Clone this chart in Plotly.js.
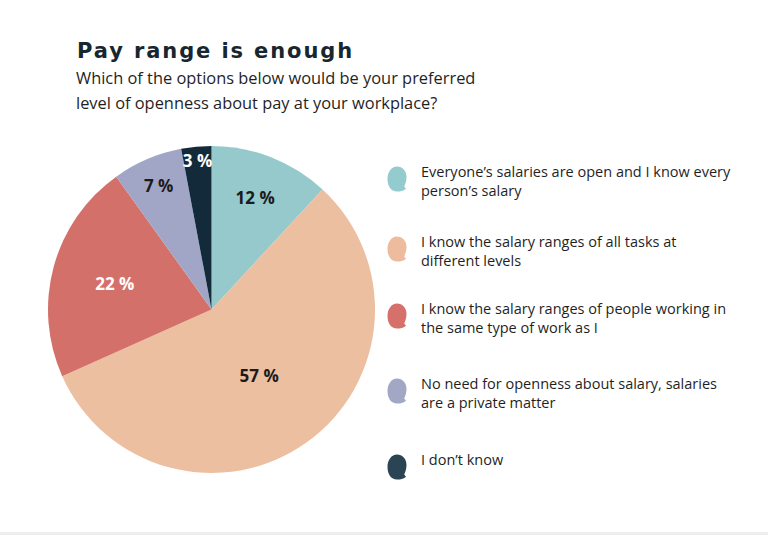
<!DOCTYPE html>
<html>
<head>
<meta charset="utf-8">
<script src="https://cdn.plot.ly/plotly-3.0.1.min.js"></script>
<style>
  html, body { margin: 0; padding: 0; background: #ffffff; }
  #chart { width: 768px; height: 535px; }
  #chart .gtitle { letter-spacing: 1.9px; }
</style>
</head>
<body>
<div id="chart"></div>
<script>
// Survey answers, in the order they go round the pie (clockwise from 12 o'clock)
const categories = [
  "Everyone’s salaries are open and I know every<br>person’s salary",
  "I know the salary ranges of all tasks at<br>different levels",
  "I know the salary ranges of people working in<br>the same type of work as I",
  "No need for openness about salary, salaries<br>are a private matter",
  "I don’t know"
];
const shares = [12, 57, 22, 7, 3];

const sliceColors  = ["#95c9cb", "#ecbfa1", "#d4706a", "#a1a6c6", "#132a3a"];
const markerColors = ["#94cbcf", "#edbc9e", "#d5706b", "#a2a7c6", "#2b4454"];
const labelColors  = ["#1b1b1b", "#1b1b1b", "#ffffff", "#1b1b1b", "#ffffff"];

const titleText = "Pay range is enough";
const subtitleLines = [
  "Which of the options below would be your preferred",
  "level of openness about pay at your workplace?"
];

const W = 768, H = 535;
const px = x => x / W;
const py = y => 1 - y / H;

const pie = {
  type: "pie",
  values: shares,
  labels: categories,
  sort: false,
  direction: "clockwise",
  rotation: 0,
  marker: { colors: sliceColors, line: { width: 0 } },
  texttemplate: "%{value} %",
  textposition: "inside",
  insidetextorientation: "horizontal",
  textfont: { family: "Open Sans", size: 17, weight: 700, color: labelColors },
  hoverinfo: "skip",
  showlegend: false,
  domain: { x: [px(48), px(375)], y: [py(473), py(146)] }
};

// Legend rows drawn beside the pie: a rounded blob and its wrapped label
const rowTop = [171, 241, 308, 383, 459];
const blob = "M0,12.5 C5.5,12.5 9.5,8 9.5,2 C9.5,-2.5 8,-5.5 7.2,-7.6 L9,-9.8 C6,-12.6 3,-12.5 0,-12.5 C-6,-12.5 -9.5,-7 -9.5,0 C-9.5,7 -5.5,12.5 0,12.5 Z";

const shapes = [];
const annotations = [];

categories.forEach((cat, i) => {
  shapes.push({
    type: "path",
    xref: "paper", yref: "paper",
    xsizemode: "pixel", ysizemode: "pixel",
    xanchor: px(397), yanchor: py(rowTop[i] + 8),
    path: blob,
    fillcolor: markerColors[i],
    line: { width: 0 }
  });
  annotations.push({
    xref: "paper", yref: "paper",
    x: px(419), y: py(rowTop[i] - 11.5),
    xanchor: "left", yanchor: "top",
    align: "left",
    showarrow: false,
    text: cat,
    font: { family: "Open Sans", size: 14.5, color: "#1f1f1f" }
  });
});

subtitleLines.forEach((line, i) => {
  annotations.push({
    xref: "paper", yref: "paper",
    x: px(74), y: py(78 + i * 24),
    xanchor: "left", yanchor: "middle",
    showarrow: false,
    text: line,
    font: { family: "Open Sans", size: 16.4, color: "#1f1f1f" }
  });
});

// thin grey strip along the bottom edge
shapes.push({
  type: "rect", xref: "paper", yref: "paper",
  x0: 0, x1: 1, y0: 0, y1: py(532),
  fillcolor: "#eeeeee", line: { width: 0 }, layer: "below"
});

const layout = {
  width: W, height: H,
  margin: { l: 0, r: 0, t: 0, b: 0 },
  paper_bgcolor: "#ffffff",
  title: {
    text: titleText,
    x: px(77), xanchor: "left",
    y: py(51), yanchor: "middle",
    font: { family: "DejaVu Sans", size: 21, weight: 700, color: "#17262f" }
  },
  uniformtext: { mode: "show", minsize: 17 },
  shapes: shapes,
  annotations: annotations,
  showlegend: false
};

Plotly.newPlot("chart", [pie], layout, { displayModeBar: false, staticPlot: true });
</script>
</body>
</html>
